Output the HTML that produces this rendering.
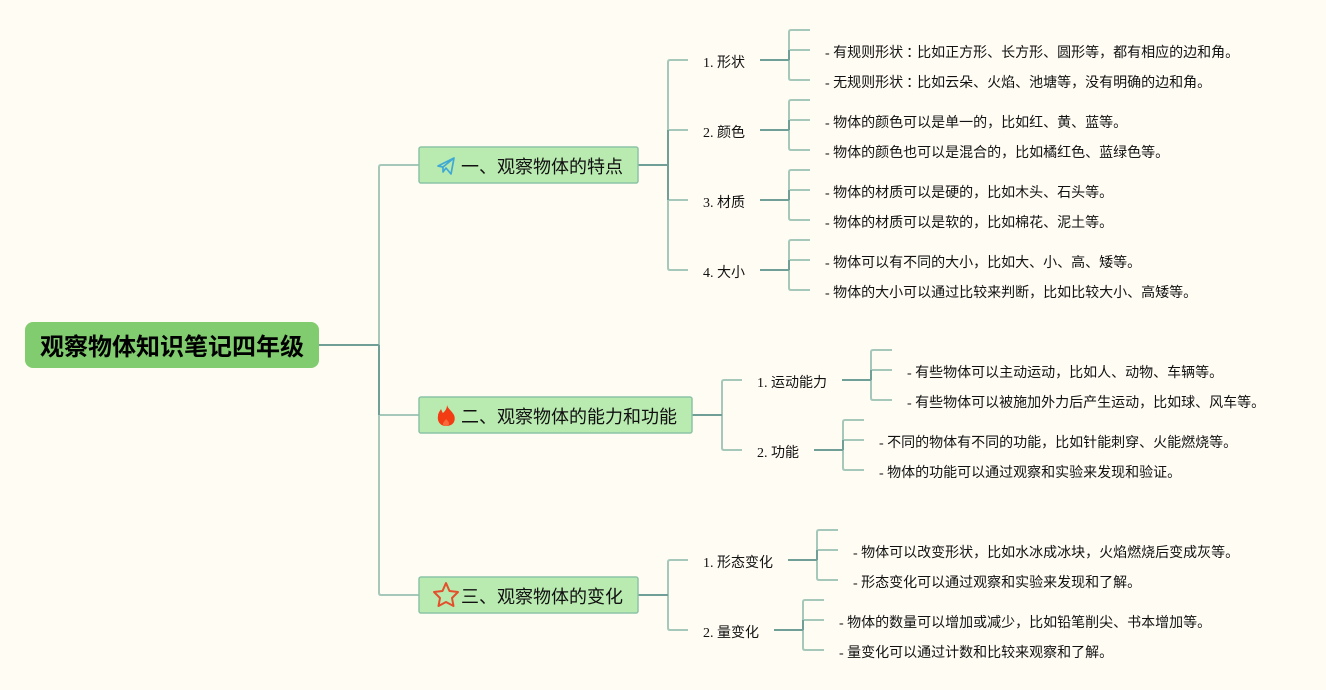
<!DOCTYPE html>
<html lang="zh"><head><meta charset="utf-8"><style>
html,body{margin:0;padding:0;width:1326px;height:690px;overflow:hidden;background:#fffcf3}
svg{position:absolute;left:0;top:0;display:block}
text{font-family:"Liberation Serif","WenQuanYi Zen Hei","Noto Sans CJK SC",sans-serif;fill:#111}
.l{font-size:14px}
.m{font-size:18px}
.r{font-size:24px;font-weight:bold;fill:#000;font-family:"Liberation Sans","WenQuanYi Zen Hei","Noto Sans CJK SC",sans-serif}
.a{fill:none;stroke:#6f9f96;stroke-width:2}
.b{fill:none;stroke:#a6c8ba;stroke-width:2}
</style></head><body>
<svg width="1326" height="690" viewBox="0 0 1326 690" xmlns="http://www.w3.org/2000/svg">
<rect width="1326" height="690" fill="#fffcf3"/>
<g class="b">
<path class="b" d="M419 165H381Q379 165 379 167V593Q379 595 381 595H419M379 415H419"/>
<path class="b" d="M688 60H670Q668 60 668 62V268Q668 270 670 270H688M668 130H688M668 200H688"/>
<path class="b" d="M810 30H791Q789 30 789 32V78Q789 80 791 80H810M789 50H810"/>
<path class="b" d="M810 100H791Q789 100 789 102V148Q789 150 791 150H810M789 120H810"/>
<path class="b" d="M810 170H791Q789 170 789 172V218Q789 220 791 220H810M789 190H810"/>
<path class="b" d="M810 240H791Q789 240 789 242V288Q789 290 791 290H810M789 260H810"/>
<path class="b" d="M742 380H724Q722 380 722 382V448Q722 450 724 450H742"/>
<path class="b" d="M892 350H873Q871 350 871 352V398Q871 400 873 400H892M871 370H892"/>
<path class="b" d="M864 420H845Q843 420 843 422V468Q843 470 845 470H864M843 440H864"/>
<path class="b" d="M688 560H670Q668 560 668 562V628Q668 630 670 630H688"/>
<path class="b" d="M838 530H819Q817 530 817 532V578Q817 580 819 580H838M817 550H838"/>
<path class="b" d="M824 600H805Q803 600 803 602V648Q803 650 805 650H824M803 620H824"/>
</g>
<path class="a" d="M319 345H379M638 165H668M692 415H722M638 595H668M760 60H789M760 130H789M760 200H789M760 270H789M842 380H871M814 450H843M788 560H817M774 630H803"/>
<path class="a" d="M379 345V415M668 130V200M789 50V60M789 120V130M789 190V200M789 260V270M871 370V380M843 440V450M817 550V560M803 620V630"/>
<rect x="25" y="322" width="294" height="46" rx="8" fill="#80cc6e"/>
<text class="r" x="40" y="355" textLength="264">观察物体知识笔记四年级</text>
<rect x="419" y="147" width="219" height="36" rx="2" fill="#b9eab0" stroke="#8cc3a6" stroke-width="1.5"/>
<rect x="419" y="397" width="273" height="36" rx="2" fill="#b9eab0" stroke="#8cc3a6" stroke-width="1.5"/>
<rect x="419" y="577" width="219" height="36" rx="2" fill="#b9eab0" stroke="#8cc3a6" stroke-width="1.5"/>
<path d="M438 166L454 158L451 174L446 168L443 172V167Z M443 167L454 158" fill="none" stroke="#3fa9d4" stroke-width="1.7" stroke-linejoin="round"/>
<path d="M447 405C448 409 452 411 454 415C456 420 454 426 446 426C440 426 437 421 438 416C438 413 440 411 441 409C442 411 442 412 443 413C445 411 447 409 447 405Z" fill="#f23c14"/>
<path d="M446 419C448 421 449 422 449 424C449 425 447 426 446 426C444 426 443 425 443 424C443 422 445 421 446 419Z" fill="#f86a3c"/>
<path d="M446 583L449.500 591L458 592L452 598L453.500 606L446 602L438.500 606L440 598L434 592L442.500 591Z" fill="none" stroke="#e4502c" stroke-width="2" stroke-linejoin="round"/>
<text class="m" x="461" y="173">一、观察物体的特点</text>
<text class="m" x="461" y="423">二、观察物体的能力和功能</text>
<text class="m" x="461" y="603">三、观察物体的变化</text>
<text class="l" x="703" y="67">1. 形状</text>
<text class="l" x="703" y="137">2. 颜色</text>
<text class="l" x="703" y="207">3. 材质</text>
<text class="l" x="703" y="277">4. 大小</text>
<text class="l" x="757" y="387">1. 运动能力</text>
<text class="l" x="757" y="457">2. 功能</text>
<text class="l" x="703" y="567">1. 形态变化</text>
<text class="l" x="703" y="637">2. 量变化</text>
<text class="l" x="825" y="57">- 有规则形状<tspan dx="3">：</tspan><tspan dx="-3">比如正方形、长方形、圆形等，都有相应的边和角。</tspan></text>
<text class="l" x="825" y="87">- 无规则形状<tspan dx="3">：</tspan><tspan dx="-3">比如云朵、火焰、池塘等，没有明确的边和角。</tspan></text>
<text class="l" x="825" y="127">- 物体的颜色可以是单一的，比如红、黄、蓝等。</text>
<text class="l" x="825" y="157">- 物体的颜色也可以是混合的，比如橘红色、蓝绿色等。</text>
<text class="l" x="825" y="197">- 物体的材质可以是硬的，比如木头、石头等。</text>
<text class="l" x="825" y="227">- 物体的材质可以是软的，比如棉花、泥土等。</text>
<text class="l" x="825" y="267">- 物体可以有不同的大小，比如大、小、高、矮等。</text>
<text class="l" x="825" y="297">- 物体的大小可以通过比较来判断，比如比较大小、高矮等。</text>
<text class="l" x="907" y="377">- 有些物体可以主动运动，比如人、动物、车辆等。</text>
<text class="l" x="907" y="407">- 有些物体可以被施加外力后产生运动，比如球、风车等。</text>
<text class="l" x="879" y="447">- 不同的物体有不同的功能，比如针能刺穿、火能燃烧等。</text>
<text class="l" x="879" y="477">- 物体的功能可以通过观察和实验来发现和验证。</text>
<text class="l" x="853" y="557">- 物体可以改变形状，比如水冰成冰块，火焰燃烧后变成灰等。</text>
<text class="l" x="853" y="587">- 形态变化可以通过观察和实验来发现和了解。</text>
<text class="l" x="839" y="627">- 物体的数量可以增加或减少，比如铅笔削尖、书本增加等。</text>
<text class="l" x="839" y="657">- 量变化可以通过计数和比较来观察和了解。</text>
</svg>
</body></html>
